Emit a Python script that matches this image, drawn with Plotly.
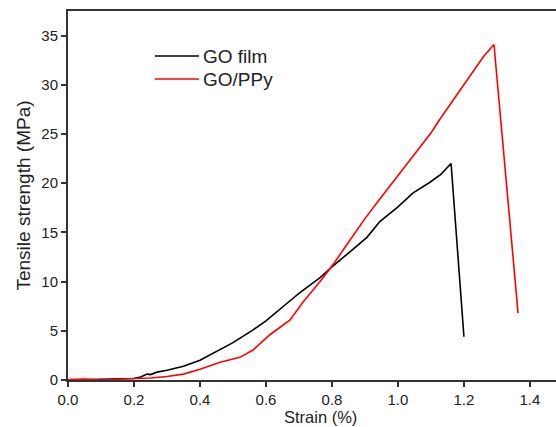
import plotly.graph_objects as go

go_strain = [0, 0.05, 0.1, 0.15, 0.2, 0.22, 0.24, 0.25, 0.27, 0.3, 0.35, 0.4, 0.461, 0.5,
             0.561, 0.6, 0.664, 0.7, 0.764, 0.8, 0.85, 0.906, 0.945, 1.0, 1.045, 1.097, 1.13, 1.161, 1.2]
go_stress = [0, 0.05, 0.1, 0.1, 0.15, 0.3, 0.6, 0.55, 0.8, 1.0, 1.4, 2.0, 3.05, 3.8,
             5.1, 6.0, 7.8, 8.8, 10.4, 11.5, 12.9, 14.5, 16.1, 17.6, 19.0, 20.1, 20.9, 22.0, 4.4]

ppy_strain = [0, 0.05, 0.1, 0.15, 0.2, 0.25, 0.3, 0.35, 0.4, 0.461, 0.521, 0.561, 0.59, 0.612, 0.673,
              0.712, 0.764, 0.809, 0.848, 0.9, 0.945, 1.0, 1.045, 1.1, 1.127, 1.2, 1.227, 1.26, 1.291, 1.364]
ppy_stress = [0.05, 0.1, 0.0, 0.1, 0.15, 0.2, 0.35, 0.6, 1.1, 1.8, 2.3, 3.05, 3.9, 4.6, 6.1,
              7.9, 10.0, 12.0, 13.9, 16.4, 18.4, 20.8, 22.7, 25.1, 26.5, 30.0, 31.4, 32.9, 34.1, 6.8]

x_ticks = [0.0, 0.2, 0.4, 0.6, 0.8, 1.0, 1.2, 1.4]
y_ticks = [0, 5, 10, 15, 20, 25, 30, 35]
series_names = ["GO film", "GO/PPy"]
series_colors = ["black", "#ff0000"]

FONT = "Liberation Sans, Arial, sans-serif"
fig = go.Figure()
fig.add_trace(go.Scatter(x=go_strain, y=go_stress, mode="lines", name=series_names[0],
                         line=dict(color=series_colors[0], width=1.6), showlegend=False))
fig.add_trace(go.Scatter(x=ppy_strain, y=ppy_stress, mode="lines", name=series_names[1],
                         line=dict(color=series_colors[1], width=1.6), showlegend=False))

# manual legend (plot area: x 68..556, y 11..380)
W, H, L, T = 488.0, 369.0, 68.0, 11.0
for i, (nm, col) in enumerate(zip(series_names, series_colors)):
    ypix = 56 + 23 * i
    yp = 1 - (ypix - T) / H
    fig.add_shape(type="line", xref="paper", yref="paper",
                  x0=(155 - L) / W, x1=(199 - L) / W, y0=yp, y1=yp,
                  line=dict(color=col, width=1.6))
    fig.add_annotation(xref="paper", yref="paper", x=(201 - L) / W, y=yp,
                       xanchor="left", yanchor="middle", text=nm, showarrow=False,
                       font=dict(family=FONT, size=19, color="#222"))

# x-axis title as annotation, bottom-anchored at the page edge
fig.add_annotation(xref="paper", yref="paper", x=(320 - L) / W, y=-(427 - (T + H)) / H,
                   xanchor="center", yanchor="bottom", text="Strain (%)", showarrow=False,
                   borderpad=0, font=dict(family=FONT, size=16.5, color="#222"))

axis_font = dict(family=FONT, size=15, color="#222")
fig.update_layout(
    width=556, height=427,
    margin=dict(l=68, r=0, t=11, b=47),
    plot_bgcolor="white", paper_bgcolor="white",
    font=dict(family=FONT, size=16, color="#222"),
    showlegend=False,
    xaxis=dict(range=[0, 1.479], tickvals=x_ticks, ticktext=[f"{v:.1f}" for v in x_ticks],
               showgrid=False, zeroline=False, showline=True, linecolor="#333", linewidth=2,
               mirror=True, ticks="outside", ticklen=5, tickwidth=1.5, tickcolor="#333",
               tickfont=axis_font, automargin=False),
    yaxis=dict(range=[0, 37.5], tickvals=y_ticks,
               showgrid=False, zeroline=False, showline=True, linecolor="#333", linewidth=2,
               ticks="outside", ticklen=5, tickwidth=1.5, tickcolor="#333",
               tickfont=axis_font, automargin=False,
               title=dict(text="Tensile strength (MPa)", font=dict(family=FONT, size=19, color="#222"), standoff=6)),
)
fig.write_html("out.html")
